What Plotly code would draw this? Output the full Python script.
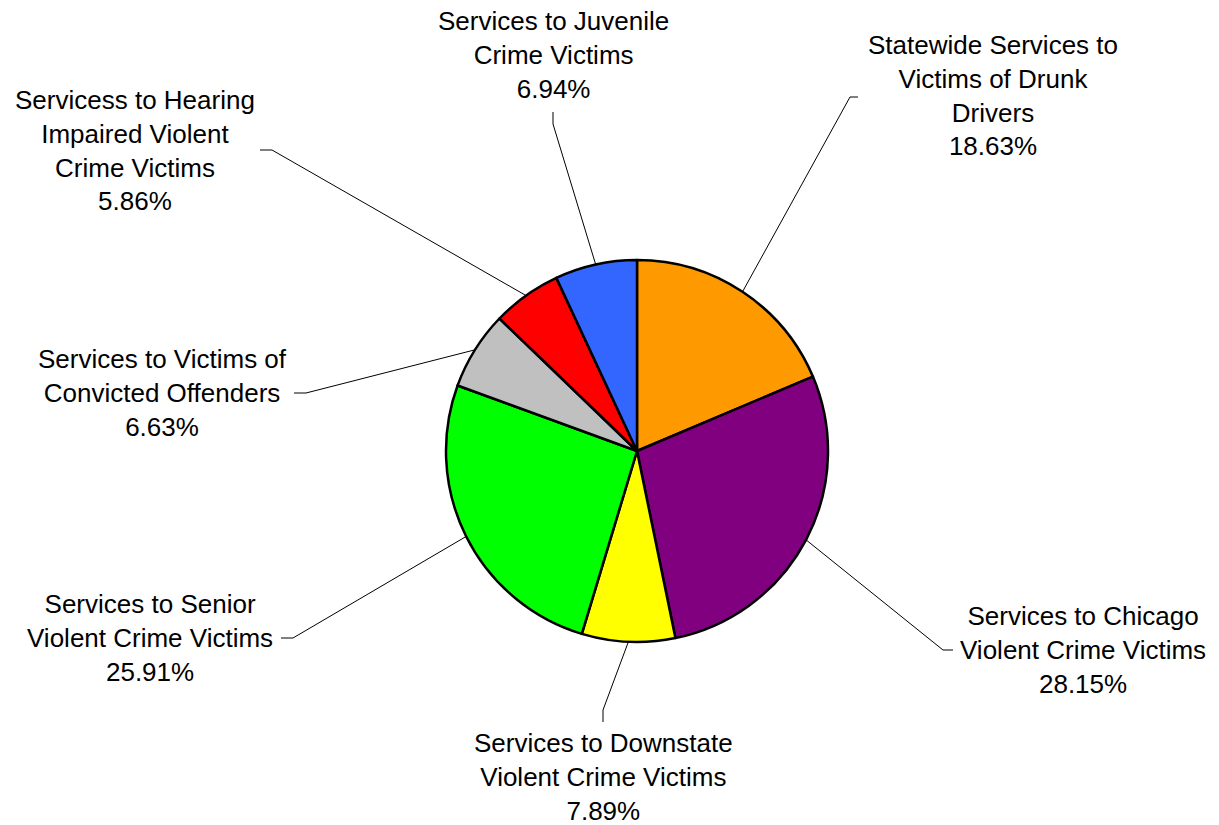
import math
import plotly.graph_objects as go

# ---- data ----
categories = [
    "Statewide Services to Victims of Drunk Drivers",
    "Services to Chicago Violent Crime Victims",
    "Services to Downstate Violent Crime Victims",
    "Services to Senior Violent Crime Victims",
    "Services to Victims of Convicted Offenders",
    "Servicess to Hearing Impaired Violent Crime Victims",
    "Services to Juvenile Crime Victims",
]
values = [18.63, 28.15, 7.89, 25.91, 6.63, 5.86, 6.94]
label_lines = [
    ["Statewide Services to", "Victims of Drunk", "Drivers"],
    ["Services to Chicago", "Violent Crime Victims"],
    ["Services to Downstate", "Violent Crime Victims"],
    ["Services to Senior", "Violent Crime Victims"],
    ["Services to Victims of", "Convicted Offenders"],
    ["Servicess to Hearing", "Impaired Violent", "Crime Victims"],
    ["Services to Juvenile", "Crime Victims"],
]
colors = ["#FF9900", "#800080", "#FFFF00", "#00FF00", "#C0C0C0", "#FF0000", "#3366FF"]

# ---- layout geometry (pixels) ----
W, H = 1219, 825
CX, CY, R = 637, 451, 191
# label block centers
label_pos = [(993, 96), (1083, 650), (603, 777), (150, 638), (162, 393), (135, 150), (553, 55)]
# leader line: elbow point, end point
leaders = [
    ((850, 97), (858, 97)),
    ((943, 650), (953, 650)),
    ((603, 710), (603, 722)),
    ((293, 638), (281, 638)),
    ((306, 393), (294, 393)),
    ((272, 150), (260, 150)),
    ((553, 124), (553, 112)),
]

def px(x):
    return x / W

def py(y):
    return 1 - y / H

fig = go.Figure()
fig.add_trace(go.Pie(
    labels=categories, values=values, sort=False, direction="clockwise", rotation=0,
    marker=dict(colors=colors, line=dict(color="black", width=2.5)),
    textinfo="none", hoverinfo="label+percent", showlegend=False,
    domain=dict(x=[px(CX - R), px(CX + R)], y=[py(CY + R), py(CY - R)]),
))

total = sum(values)
cum = 0.0
shapes = []
annotations = []
for i, v in enumerate(values):
    mid = (cum + v / 2) / total
    cum += v
    th = 2 * math.pi * mid
    ex = CX + R * math.sin(th)
    ey = CY - R * math.cos(th)
    (bx, by), (tx, ty) = leaders[i]
    path = f"M {px(ex)},{py(ey)} L {px(bx)},{py(by)} L {px(tx)},{py(ty)}"
    shapes.append(dict(type="path", xref="paper", yref="paper", path=path,
                       line=dict(color="black", width=1)))
    text = "<br>".join(label_lines[i] + [f"{v:.2f}%"])
    lx, ly = label_pos[i]
    annotations.append(dict(x=px(lx), y=py(ly), xref="paper", yref="paper", text=text,
                            showarrow=False, xanchor="center", yanchor="middle", align="center",
                            font=dict(family="Liberation Sans, Arial, sans-serif", size=26, color="black")))

fig.update_layout(
    width=W, height=H, margin=dict(l=0, r=0, t=0, b=0),
    paper_bgcolor="white", plot_bgcolor="white",
    shapes=shapes, annotations=annotations,
)
fig.write_html("out.html", config={"displayModeBar": False},
               post_script="document.body.style.margin='0';document.body.style.overflow='hidden';")
